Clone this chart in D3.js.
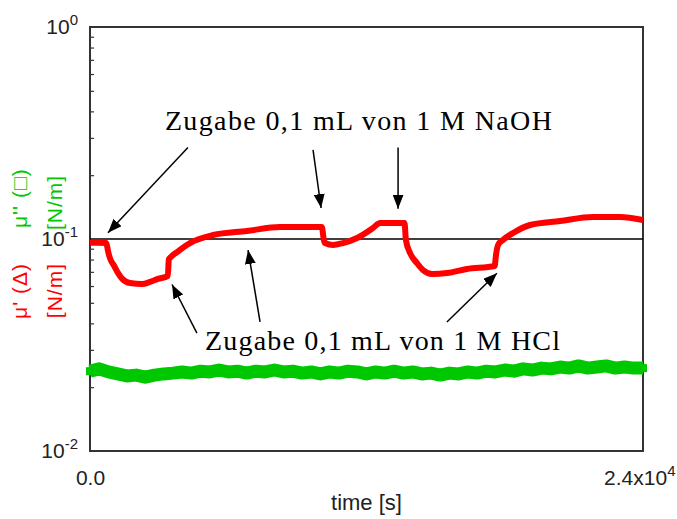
<!DOCTYPE html>
<html>
<head>
<meta charset="utf-8">
<script src="https://cdn.jsdelivr.net/npm/d3@7"></script>
<style>
  html, body { margin: 0; padding: 0; background: #fff; }
  svg { display: block; }
</style>
</head>
<body>
<svg id="chart" width="677" height="519"></svg>
<script>
// Surface viscoelastic modulus over time: mu' (red) and mu'' (green), N/m
const redTime = [0, 350, 700, 740, 780, 870, 1040, 1220, 1390, 1740, 2260, 2600, 2950, 3380,
  3420, 3470, 3780, 4340, 5340, 6810, 8250, 9680, 10060, 10150, 10200, 10550, 10980, 11590,
  12280, 12590, 13020, 13650, 13710, 13890, 14190, 14450, 14840, 15490, 16360, 17560, 17620,
  17710, 17920, 18360, 19100, 20400, 21830, 23000, 24000];
const redValue = [0.096, 0.096, 0.0957, 0.093, 0.088, 0.081, 0.075, 0.069, 0.065, 0.062, 0.0614,
  0.0627, 0.0648, 0.067, 0.080, 0.0814, 0.0868, 0.0957, 0.1044, 0.1091, 0.1139, 0.1139, 0.1139,
  0.099, 0.0957, 0.0937, 0.0957, 0.1011, 0.1127, 0.119, 0.119, 0.119, 0.0989, 0.0859, 0.077,
  0.0714, 0.0684, 0.0691, 0.0722, 0.0746, 0.0841, 0.0937, 0.0989, 0.1067, 0.1164, 0.1216,
  0.127, 0.127, 0.1229];

const greenTime = d3.range(0, 24001, 400);
const greenValue = [0.0238, 0.0244, 0.0236, 0.0231, 0.0226, 0.0228, 0.0223, 0.0228, 0.0231, 0.0233,
  0.0236, 0.0233, 0.0238, 0.0236, 0.0241, 0.0236, 0.0238, 0.0233, 0.0238, 0.0236,
  0.0241, 0.0236, 0.0238, 0.0233, 0.0236, 0.0231, 0.0236, 0.0233, 0.0238, 0.0236,
  0.0231, 0.0236, 0.0233, 0.0238, 0.0233, 0.0236, 0.0231, 0.0233, 0.0228, 0.0233,
  0.0231, 0.0236, 0.0233, 0.0238, 0.0236, 0.0241, 0.0238, 0.0244, 0.0241, 0.0246,
  0.0244, 0.0249, 0.0246, 0.0252, 0.0246, 0.0249, 0.0252, 0.0246, 0.0249, 0.0246, 0.0246];

const yDecades = [0.01, 0.1, 1];
const yExponents = ["-2", "-1", "0"];
const xTickValues = [0, 24000];
const xTickBase = ["0.0", "2.4x10"];
const xTickExp = ["", "4"];

const naohLabel = "Zugabe 0,1 mL von 1 M NaOH";
const hclLabel = "Zugabe 0,1 mL von 1 M HCl";
// arrows: [fromTime, fromValue, toTime, toValue]
const naohArrows = [[4250, 0.27, 780, 0.107], [9680, 0.263, 10030, 0.14], [13370, 0.27, 13370, 0.139]];
const hclArrows = [[4640, 0.036, 3560, 0.061], [7380, 0.0406, 6860, 0.0887], [15490, 0.0406, 17660, 0.069]];

const svg = d3.select("#chart");
const plotLeft = 90, plotRight = 643, plotTop = 27, plotBottom = 451;

const x = d3.scaleLinear().domain([0, 24000]).range([plotLeft, plotRight]);
const y = d3.scaleLog().domain([0.01, 1]).range([plotBottom, plotTop]);

const sans = "'Liberation Sans', Arial, sans-serif";
const serif = "'Liberation Serif', 'Times New Roman', serif";

// frame
svg.append("rect")
  .attr("x", plotLeft).attr("y", plotTop)
  .attr("width", plotRight - plotLeft).attr("height", plotBottom - plotTop)
  .attr("fill", "none").attr("stroke", "#333").attr("stroke-width", 2);

// minor log ticks, inside the left axis
const minor = [];
[0.01, 0.1].forEach(d => { for (let k = 2; k <= 9; k++) minor.push(d * k); });
const minorAxis = svg.append("g")
  .attr("transform", `translate(${plotLeft},0)`)
  .call(d3.axisLeft(y).tickValues(minor).tickSize(-4).tickFormat(""));
minorAxis.select(".domain").remove();
minorAxis.selectAll("line").attr("stroke", "#333").attr("stroke-width", 1.2);

// decade labels
const yAxis = svg.append("g")
  .attr("transform", `translate(${plotLeft},0)`)
  .call(d3.axisLeft(y).tickValues(yDecades).tickSize(0).tickPadding(12).tickFormat(""));
yAxis.select(".domain").remove();
yAxis.selectAll(".tick text").each(function(d, i) {
  const t = d3.select(this)
    .attr("font-family", sans).attr("font-size", 21).attr("fill", "#222")
    .attr("text-anchor", "end").attr("dy", "0.3em");
  t.append("tspan").text("10");
  t.append("tspan").attr("dy", -9).attr("font-size", 15).text(yExponents[i]);
});

// x axis labels
const xAxis = svg.append("g")
  .attr("transform", `translate(0,${plotBottom})`)
  .call(d3.axisBottom(x).tickValues(xTickValues).tickSize(0).tickPadding(19).tickFormat(""));
xAxis.select(".domain").remove();
xAxis.selectAll(".tick text").each(function(d, i) {
  const t = d3.select(this)
    .attr("font-family", sans).attr("font-size", 21).attr("fill", "#222")
    .attr("text-anchor", i === 0 ? "middle" : "end")
    .attr("x", i === 0 ? 0 : 32);
  t.append("tspan").text(xTickBase[i]);
  if (xTickExp[i]) t.append("tspan").attr("dy", -9).attr("font-size", 15).text(xTickExp[i]);
});

svg.append("text")
  .attr("x", (plotLeft + plotRight) / 2).attr("y", 510)
  .attr("text-anchor", "middle")
  .attr("font-family", sans).attr("font-size", 22).attr("fill", "#222")
  .text("time [s]");

// y axis titles
const titles = [
  { text: "μ'' (□)", x: 27, y: 228, anchor: "start", color: "#00c800" },
  { text: "[N/m]", x: 62, y: 230, anchor: "start", color: "#00c800" },
  { text: "μ' (Δ)", x: 27, y: 263, anchor: "end", color: "#ff0000" },
  { text: "[N/m]", x: 62, y: 263, anchor: "end", color: "#ff0000" }
];
titles.forEach(d => {
  svg.append("text")
    .attr("transform", `translate(${d.x},${d.y}) rotate(-90)`)
    .attr("text-anchor", d.anchor)
    .attr("font-family", sans).attr("font-size", 21)
    .attr("letter-spacing", 1)
    .attr("fill", d.color)
    .text(d.text);
});

// reference line at 10^-1
svg.append("line")
  .attr("x1", x(0)).attr("x2", x(24000))
  .attr("y1", y(0.1)).attr("y2", y(0.1))
  .attr("stroke", "#000").attr("stroke-width", 1.5);

// mu'' series
const green = greenTime.map((t, i) => [t, greenValue[i]]);
const line = d3.line().x(d => x(d[0])).y(d => y(d[1]));
svg.append("path")
  .datum(green)
  .attr("d", line)
  .attr("fill", "none").attr("stroke", "#00c800")
  .attr("stroke-width", 13).attr("stroke-linejoin", "round");
svg.append("g").selectAll("rect")
  .data(green).join("rect")
  .attr("x", d => x(d[0]) - 4).attr("y", d => y(d[1]) - 4)
  .attr("width", 8).attr("height", 8)
  .attr("fill", "#00c800");

// mu' series
const red = redTime.map((t, i) => [t, redValue[i]]);
svg.append("path")
  .datum(red)
  .attr("d", line.curve(d3.curveMonotoneX))
  .attr("fill", "none").attr("stroke", "#ff0000")
  .attr("stroke-width", 6).attr("stroke-linejoin", "round");

// annotations
svg.append("defs").append("marker")
  .attr("id", "head")
  .attr("viewBox", "0 0 14 11")
  .attr("refX", 14).attr("refY", 5.5)
  .attr("markerWidth", 14).attr("markerHeight", 11)
  .attr("markerUnits", "userSpaceOnUse")
  .attr("orient", "auto")
  .append("path").attr("d", "M0,0 L14,5.5 L0,11 Z").attr("fill", "#000");

naohArrows.concat(hclArrows).forEach(a => {
  svg.append("line")
    .attr("x1", x(a[0])).attr("y1", y(a[1]))
    .attr("x2", x(a[2])).attr("y2", y(a[3]))
    .attr("stroke", "#000").attr("stroke-width", 1.5)
    .attr("marker-end", "url(#head)");
});

svg.append("text")
  .attr("x", x(3250)).attr("y", y(0.327))
  .attr("font-family", serif).attr("font-size", 28).attr("fill", "#000")
  .attr("textLength", 387).attr("lengthAdjust", "spacing")
  .text(naohLabel);

svg.append("text")
  .attr("x", x(4990)).attr("y", y(0.030))
  .attr("font-family", serif).attr("font-size", 28).attr("fill", "#000")
  .attr("textLength", 355).attr("lengthAdjust", "spacing")
  .text(hclLabel);
</script>
</body>
</html>
